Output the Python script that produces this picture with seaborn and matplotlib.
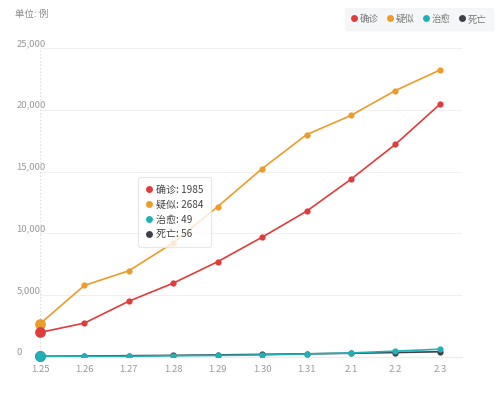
import matplotlib
matplotlib.use("Agg")
import matplotlib.pyplot as plt
import seaborn as sns
import pandas as pd
from matplotlib.lines import Line2D

dates = ["1.25", "1.26", "1.27", "1.28", "1.29", "1.30", "1.31", "2.1", "2.2", "2.3"]
confirmed = [1985, 2744, 4515, 5974, 7711, 9692, 11791, 14380, 17205, 20438]
suspected = [2684, 5794, 6973, 9239, 12167, 15238, 17988, 19544, 21558, 23214]
cured = [49, 51, 60, 103, 124, 171, 243, 328, 475, 632]
deaths = [56, 80, 106, 132, 170, 213, 259, 304, 361, 425]
series_names = ["确诊", "疑似", "治愈", "死亡"]
colors = ["#df3c3c", "#eb9c2b", "#21b1b5", "#3d4049"]
yticks = [0, 5000, 10000, 15000, 20000, 25000]

sns.set_theme(style="white")
plt.rcParams["font.family"] = ["Noto Sans CJK SC", "DejaVu Sans"]

values = [confirmed, suspected, cured, deaths]
rows = []
for name, vals in zip(series_names, values):
    for i, v in enumerate(vals):
        rows.append({"idx": i, "date": dates[i], "value": v, "series": name})
df = pd.DataFrame(rows)
palette = dict(zip(series_names, colors))

fig = plt.figure(figsize=(4.99, 3.95), dpi=100)
ax = fig.add_axes([40 / 499, 38 / 395, (462 - 40) / 499, (357 - 48) / 395])

zorders = {"确诊": 4, "疑似": 3, "治愈": 6, "死亡": 5}
for name in series_names:
    sub = df[df["series"] == name]
    sns.lineplot(data=sub, x="idx", y="value", color=palette[name], marker="o",
                 markersize=4.5, markeredgewidth=0, linewidth=1.2, ax=ax,
                 zorder=zorders[name], legend=False)
    first = sub[sub["idx"] == 0]
    sns.scatterplot(data=first, x="idx", y="value", color=palette[name], s=60,
                    linewidth=0, ax=ax, zorder=zorders[name] + 0.5, legend=False,
                    clip_on=False)

ax.set_xlim(0, 9.5)
ax.set_ylim(0, 25000)
ax.set_xticks(range(len(dates)))
ax.set_xticklabels(dates)
ax.set_yticks(yticks)
ax.set_yticklabels([f"{t:,}" for t in yticks])
ax.set_xlabel("")
ax.set_ylabel("")

for s in ["top", "right", "left"]:
    ax.spines[s].set_visible(False)
ax.spines["bottom"].set_color("#eeeeee")
ax.spines["bottom"].set_linewidth(1.0)
ax.grid(axis="y", color="#f0f0f0", linewidth=0.8)
ax.grid(axis="x", visible=False)
ax.set_axisbelow(True)
ax.tick_params(axis="x", length=0, pad=6, labelsize=6.8, labelcolor="#999999")
ax.tick_params(axis="y", length=0, pad=17, labelsize=6.8, labelcolor="#999999")
for lab in ax.get_yticklabels():
    lab.set_horizontalalignment("left")
    lab.set_verticalalignment("bottom")

ax.axvline(0, color="#dddddd", linestyle=(0, (1, 1.5)), linewidth=1.0, zorder=1)

fig.text(15 / 499, 1 - 14 / 395, "单位: 例", fontsize=6.8, color="#888888",
         va="center", ha="left")

handles = [Line2D([0], [0], marker="o", color="none", markerfacecolor=c,
                  markeredgewidth=0, markersize=5) for c in colors]
leg = fig.legend(handles, series_names, loc="upper right", ncol=4,
                 bbox_to_anchor=(496 / 499, 1 - 5 / 395), frameon=True,
                 fontsize=6.8, handlelength=0.6, handletextpad=0.3,
                 columnspacing=0.9, borderpad=0.45, labelcolor="#777777")
leg.get_frame().set_facecolor("#f3f4f6")
leg.get_frame().set_edgecolor("#f3f4f6")
leg.get_frame().set_boxstyle("round,pad=0.2")

tip_handles = [Line2D([0], [0], marker="o", color="none", markerfacecolor=c,
                      markeredgewidth=0, markersize=5) for c in colors]
tip_labels = [f"{n}: {v[0]}" for n, v in zip(series_names, values)]
tip = ax.legend(tip_handles, tip_labels, loc="upper left",
                bbox_to_anchor=(133 / 499, 1 - 172 / 395),
                bbox_transform=fig.transFigure, frameon=True, fontsize=7.2,
                handlelength=0.6, handletextpad=0.4, labelspacing=0.5,
                borderpad=0.75, labelcolor="#444444", fancybox=True)
tip.get_frame().set_facecolor("white")
tip.get_frame().set_edgecolor("#e2e2e2")
tip.get_frame().set_linewidth(0.8)
tip.set_zorder(20)

fig.savefig("out.png", dpi=100)
